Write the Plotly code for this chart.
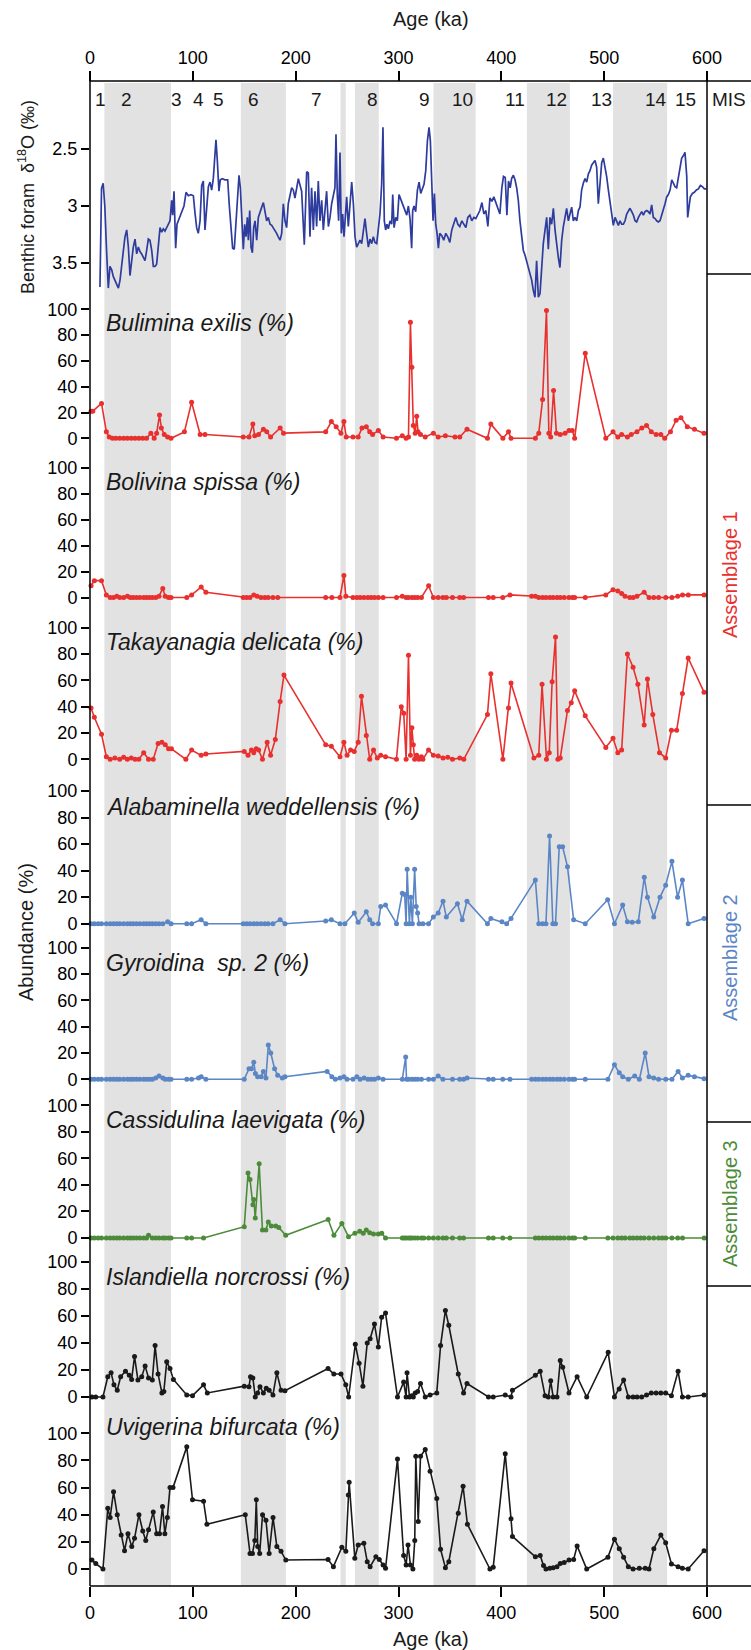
import plotly.graph_objects as go

W, H = 751, 1650
ML, MR, MT, MB = 90, 44, 81, 64
PH = H - MT - MB
PW = W - ML - MR


def fy(p):
    return (H - MB - p) / PH


def fx(p):
    return (p - ML) / PW


FONT = "Arial, Liberation Sans, sans-serif"

# ---------------- data ----------------
age_ticks = [0, 100, 200, 300, 400, 500, 600]

mis_labels = ["1", "2", "3", "4", "5", "6", "7", "8", "9", "10", "11", "12", "13", "14", "15"]
mis_ages = [10.3, 35.9, 83.8, 105.8, 124.9, 159.3, 219.9, 274.8, 325.1, 361.9, 413.2, 453.8, 497.0, 550.5, 579.4]

band_start = [14.0, 146.7, 243.6, 257.6, 334.0, 424.8, 508.6]
band_end = [78.8, 190.5, 248.7, 280.8, 375.0, 466.7, 561.2]

d18o_age = [9.7, 11.2, 12.8, 14.4, 16.2, 17.8, 19.4, 21.1, 22.7, 24.3, 26.0, 27.6, 29.2, 30.8, 32.4, 34.0, 35.7, 37.3,
            38.9, 40.5, 42.1, 43.8, 45.4, 47.0, 48.6, 50.2, 51.9, 53.5, 55.1, 56.7, 58.3, 60.0, 61.6, 63.2, 64.8, 66.4,
            68.1, 69.7, 71.3, 72.9, 74.6, 76.2, 77.8, 79.4, 80.4, 81.7, 83.3, 84.6, 86.6, 89.1, 91.4, 93.4, 95.6, 98.2,
            100.5, 102.1, 103.7, 105.3, 107.0, 108.6, 110.2, 111.8, 113.4, 115.1, 116.7, 118.3, 119.9, 121.5, 122.5,
            123.8, 125.4, 126.7, 128.7, 131.3, 133.9, 135.5, 137.1, 138.7, 140.3, 142.0, 143.6, 144.9, 146.2, 147.5,
            149.1, 150.4, 151.7, 153.0, 154.0, 155.3, 156.6, 157.9, 159.2, 160.5, 162.1, 163.7, 165.4, 167.0, 168.6,
            170.2, 171.8, 173.4, 175.1, 176.7, 178.3, 179.9, 181.5, 183.1, 184.8, 186.4, 188.0, 189.6, 191.2, 192.8,
            194.5, 196.1, 197.7,
            199.3, 202.6, 205.8, 208.4, 210.7, 212.3, 213.9, 215.5, 217.2, 218.8, 220.4, 222.0, 223.6, 225.3, 226.9,
            228.5, 230.1, 231.8, 233.4, 235.0, 236.6, 238.2, 239.2, 240.5, 241.8, 243.1, 244.4, 245.7, 247.0, 248.3,
            249.6, 251.2, 252.8, 254.5, 256.1, 257.7, 259.3, 260.9, 262.6, 264.2, 265.8, 267.4, 269.0, 270.7, 272.3,
            273.9, 275.5, 277.1, 278.8, 280.4, 282.0, 283.6, 284.9, 286.2, 287.5, 288.8, 290.1, 291.8, 293.4, 294.4,
            295.7, 297.3, 298.9, 300.5, 302.5, 304.4, 306.3, 308.0, 309.6, 311.2, 312.8, 313.8, 315.1, 316.7, 318.4,
            320.0, 321.6, 323.2, 324.8, 326.5, 328.1, 329.7, 331.0, 332.3, 333.6, 334.9, 336.2, 337.5, 338.8, 340.1,
            342.1, 344.0, 346.0, 347.9, 349.9, 351.8, 353.8, 355.7, 357.7, 359.6, 361.6, 363.5, 365.5, 367.4, 369.4,
            371.3, 373.3, 375.2, 377.2, 379.1, 381.1, 383.0, 385.0, 386.9, 388.9, 390.8, 392.7, 394.7, 396.6, 398.6,
            400.5, 402.1, 403.8, 405.4, 407.0, 408.6,
            410.0, 411.7, 413.3, 414.9, 416.5, 418.1, 419.8, 421.4, 423.0, 424.6, 426.2, 427.9, 429.5, 431.1, 432.7,
            434.3, 436.0, 437.6, 439.2, 440.8, 442.5, 444.1, 445.7, 447.3, 448.9, 450.6, 452.2, 453.8, 455.4, 457.0,
            458.7, 460.3, 461.9, 463.5, 465.2, 466.8, 468.4, 470.0, 471.6, 473.3, 474.9, 476.5, 478.1, 479.7, 481.4,
            483.0, 484.6, 486.2, 487.9, 489.5, 491.1, 492.7, 494.3, 496.0, 497.6, 499.2, 500.8, 502.4, 504.1, 505.7,
            507.3, 508.9, 510.6, 512.2, 513.8, 515.4, 517.0, 518.7, 520.3, 521.9, 523.5, 525.1, 526.8, 528.4, 530.0,
            531.6, 533.3, 534.9, 536.5, 538.1, 539.7, 541.4, 543.0, 544.6, 546.2, 547.8, 549.5, 551.1, 552.7, 554.3,
            556.0, 557.6, 559.2, 560.8, 562.4, 564.1, 565.7, 567.3, 568.9, 570.5, 572.2, 573.8, 575.4, 577.0, 578.6,
            580.3, 581.2, 582.5, 583.8, 585.8, 587.7, 589.7, 591.6, 593.6, 595.5, 597.5, 599.4]
d18o_val = [3.71, 2.845, 2.80, 3.0, 3.41, 3.72, 3.53, 3.56, 3.62, 3.65, 3.69, 3.72, 3.65, 3.53, 3.36, 3.27, 3.21, 3.36,
            3.61, 3.45, 3.36, 3.29, 3.42, 3.36, 3.40, 3.42, 3.45, 3.48, 3.39, 3.29, 3.30, 3.39, 3.53, 3.53, 3.51, 3.36,
            3.19, 3.23, 3.20, 3.22, 3.19, 3.16, 3.13, 2.95, 3.08, 2.87, 3.37, 3.16, 3.11, 3.06, 3.00, 2.88, 2.91, 2.90,
            2.91, 3.06, 3.19, 3.24, 3.13, 2.82, 2.78, 3.21, 3.00, 2.83, 2.79, 2.86, 2.76, 2.54, 2.42,
            2.60, 2.87, 2.77, 2.76, 2.77, 2.77, 3.00, 3.21, 3.37, 3.38, 3.13, 2.84, 2.73, 2.84, 3.13,
            3.38, 3.16, 3.27, 3.10, 3.30, 3.04, 3.36, 3.41, 3.19, 3.13, 3.30, 3.10, 3.04, 3.01, 2.97,
            3.07, 3.13, 3.10, 3.16, 3.17, 3.19, 3.22, 3.24, 3.27, 3.30, 3.24, 2.98, 3.13, 3.19, 2.98,
            2.89, 2.84, 2.86,
            2.93, 2.76, 2.87, 3.34, 2.70, 2.71, 3.27, 2.84, 3.21, 2.87, 3.18, 2.78, 3.13, 2.95, 3.21,
            3.04, 2.87, 3.18, 3.10, 2.98, 2.92, 2.84, 2.37, 2.90, 3.13, 2.53, 3.24, 3.07, 3.27, 3.13,
            2.92, 3.18, 2.95, 2.79, 2.98, 3.27, 3.36, 3.33, 3.30, 3.33, 3.21, 3.11, 3.24, 3.36, 3.29,
            3.33, 3.27, 3.32, 3.33, 3.21, 3.07, 2.81, 2.31, 3.13, 3.21, 3.16, 3.20, 3.13, 3.16, 2.90,
            3.19, 3.10, 3.13, 2.90, 2.95, 3.00, 3.04, 3.08, 3.00, 3.11, 3.37, 3.04, 3.00, 3.05, 2.86,
            2.79, 2.89, 2.84, 2.81, 2.69, 2.43, 2.31, 2.43, 2.78, 3.13, 2.89, 3.16, 3.24, 3.37, 3.24,
            3.26, 3.30, 3.24, 3.27, 3.32, 3.21, 3.16, 3.10, 3.16, 3.18, 3.13, 3.16, 3.19, 3.10, 3.08,
            3.13, 3.10, 3.11, 3.07, 3.04, 2.97, 3.07, 3.04, 3.18, 2.93, 2.96, 2.92, 2.98, 3.02, 3.07,
            2.84, 2.74, 2.75, 3.08, 2.78, 2.84,
            2.76, 2.73, 2.77, 2.84, 2.95, 3.13, 3.27, 3.39, 3.43, 3.48, 3.54, 3.60, 3.65, 3.74, 3.80,
            3.48, 3.80, 3.77, 3.54, 3.33, 3.21, 3.10, 3.38, 3.10, 3.16, 3.02, 3.21, 3.36, 3.45, 3.54,
            3.30, 3.18, 3.10, 3.02, 3.13, 3.07, 3.01, 3.13, 3.10, 3.13, 3.04, 3.01, 2.86, 2.80, 2.76,
            2.79, 2.72, 2.69, 2.64, 2.62, 2.60, 2.66, 2.98, 2.80, 2.62, 2.58, 2.65, 2.74, 2.86, 2.98,
            3.07, 3.17, 3.10, 3.13, 3.17, 3.13, 3.16, 3.16, 3.13, 3.07, 3.04, 3.02, 3.05, 3.08, 3.13,
            3.14, 3.10, 3.07, 3.05, 3.08, 3.05, 3.04, 3.05, 3.07, 2.99, 3.10, 3.11, 3.13, 3.14, 3.13,
            3.08, 3.04, 2.98, 2.92, 2.90, 2.86, 2.77, 2.80, 2.83, 2.84, 2.74, 2.65, 2.58, 2.56, 2.53,
            2.74, 3.10, 3.01, 2.92, 2.89, 2.88, 2.86, 2.85, 2.82, 2.83, 2.85, 2.85]
d18o_ticks = [2.5, 3, 3.5]

bul_age = [1.0, 2.7, 11.2, 15.9, 18.7, 21.9, 25.2, 28.9, 32.7, 36.3, 40.1, 43.8, 47.5, 51.3, 55.0, 59.2, 62.4, 64.8,
           67.6, 69.4, 72.2, 75.5, 78.8, 91.8, 98.8, 107.1, 111.8, 149.0, 154.6, 158.4, 160.2, 163.9, 168.6, 171.9,
           175.6, 184.9, 188.2, 229.2, 234.7, 239.4, 244.0, 246.9, 249.2, 255.7, 260.8, 264.5, 268.7, 272.0, 274.8,
           280.4, 285.0, 298.0, 303.7, 307.4, 309.7, 311.6, 313.0, 314.4, 316.2, 317.7, 319.0, 321.4, 326.0, 333.9,
           338.6, 345.6, 354.9, 359.6, 366.6, 386.5, 389.8, 401.5, 407.0, 409.4, 433.1, 436.4, 440.1, 443.9, 446.2,
           448.0, 450.8, 453.6, 457.3, 462.0, 465.8, 469.0, 471.3, 481.6, 501.6, 508.6, 513.3, 517.0, 522.6, 526.3,
           531.9, 536.6, 541.2, 545.8, 550.5, 555.1, 558.9, 564.5, 570.0, 574.7, 580.8, 587.8, 597.1]
bul_val = [21, 21, 27, 5, 1, 0, 0, 0, 0, 0, 0, 0, 0, 0, 0, 4, 0, 4,
           18, 8, 3, 1, 0, 5, 28, 3, 3, 1, 1, 11, 2, 3, 7, 5,
           1, 8, 4, 5, 13, 9, 4, 13, 1, 1, 1, 8, 9, 5, 3,
           6, 1, 0, 2, 0, 1, 90, 55, 10, 4, 17, 5, 3, 1, 4,
           1, 2, 1, 1, 7, 0, 11, 0, 5, 0, 0, 4, 30, 99, 4,
           1, 37, 4, 3, 4, 6, 6, 0, 66, 0, 5, 1, 3, 1, 3,
           5, 8, 10, 5, 3, 3, 0, 5, 14, 16, 9, 7, 4]

bol_age = [1.0, 4.2, 11.2, 15.9, 19.6, 22.9, 26.1, 28.9, 32.7, 36.4, 39.2, 42.0, 45.2, 48.5, 52.2, 55.0, 57.8, 60.6,
           63.9, 67.1, 70.8, 73.1, 76.4, 78.8, 94.1, 98.8, 108.1, 112.7, 149.0, 152.3, 155.6, 159.3, 162.5, 166.3,
           170.0, 173.3, 177.9, 182.6, 229.2, 235.2, 243.1, 246.9, 248.8, 255.7, 259.5, 262.7, 266.4, 270.2, 273.4,
           276.7, 280.4, 285.0, 298.1, 303.7, 307.4, 309.7, 313.0, 315.8, 318.6, 322.3, 329.3, 333.9, 338.6, 343.2,
           346.5, 352.5, 359.5, 363.3, 387.5, 392.1, 401.4, 408.4, 429.4, 433.1, 436.4, 440.1, 443.4, 447.1, 450.3,
           454.1, 457.3, 461.1, 465.7, 469.0, 471.3, 481.6, 501.6, 508.6, 513.3, 517.0, 520.3, 524.9, 528.2, 531.9,
           538.9, 543.6, 548.2, 552.9, 559.9, 565.9, 571.5, 576.2, 581.8, 597.2]
bol_val = [9, 13, 13, 2, 0, 0, 1, 0, 0, 1, 0, 0, 0, 0, 0, 0, 0, 0,
           0, 1, 7, 1, 0, 0, 0, 2, 8, 4, 0, 0, 0, 2, 1, 0,
           0, 0, 0, 0, 0, 0, 0, 17, 1, 0, 0, 0, 0, 0, 0,
           0, 0, 0, 0, 1, 0, 0, 0, 0, 0, 0, 9, 0, 0, 0,
           0, 0, 0, 0, 0, 0, 0, 2, 1, 1, 0, 0, 0, 0, 0,
           0, 0, 0, 0, 0, 0, 0, 2, 6, 5, 3, 1, 0, 0, 1,
           4, 0, 0, 0, 0, 0, 1, 2, 2, 2]

tak_age = [1.0, 4.2, 11.2, 15.9, 19.6, 24.2, 28.9, 32.7, 36.3, 40.1, 43.8, 47.5, 52.2, 56.9, 61.5, 66.2, 69.9, 73.2,
           76.4, 79.2, 93.2, 98.8, 108.1, 112.7, 150.0, 153.7, 157.0, 159.3, 161.6, 164.0, 167.7, 172.3, 175.6,
           180.2, 184.9, 188.6, 229.2, 234.7, 243.1, 246.9, 250.0, 253.4, 257.0, 260.8, 264.0, 268.7, 272.0, 275.7,
           279.4, 282.7, 287.4, 298.0, 302.7, 305.1, 307.4, 309.7, 311.6, 313.0, 314.4, 315.7, 317.7, 320.0, 322.3,
           323.7, 329.2, 333.9, 338.6, 343.3, 347.9, 352.5, 359.6, 363.5, 386.5, 389.8, 401.5, 407.0, 409.4, 431.7,
           436.4, 439.6, 443.9, 446.6, 449.4, 452.7, 455.0, 457.3, 464.3, 468.0, 471.3, 481.6, 501.6, 508.6, 513.3,
           517.0, 522.6, 528.1, 532.8, 538.9, 542.1, 547.3, 553.8, 559.8, 565.4, 570.5, 576.1, 581.7, 597.1]
tak_val = [39, 32, 19, 2, 0, 1, 0, 1.5, 0, 1, 0, 0, 5, 0, 0, 12, 13, 11,
           8, 8, 0, 7, 3, 4, 6, 3, 7, 5, 8, 7, 0, 13, 3,
           15, 44, 64, 11, 10, 2, 13, 3, 7, 6, 13, 48, 18, 0, 7,
           1, 3, 2, 0, 40, 35, 0, 79, 3, 24, 11, 0, 3, 0, 2,
           0, 7, 3, 2.5, 1, 1.5, 0, 1, 0, 34, 65, 0, 39, 58, 1,
           3, 57, 0, 5, 59, 93, 0, 1, 37, 43, 52, 33, 9, 16, 5,
           7, 80, 70, 57, 26, 61, 34, 5, 1, 22, 22, 50, 77, 51]

ala_age = [1.0, 4.2, 7.9, 11.2, 15.9, 19.6, 22.9, 26.1, 28.9, 32.7, 36.4, 39.2, 42.0, 45.2, 48.5, 52.2, 55.0, 57.8,
           60.6, 63.9, 67.1, 70.8, 75.5, 78.8, 94.1, 98.8, 108.1, 112.7, 149.0, 152.3, 155.6, 159.3, 162.5, 166.3,
           170.0, 173.3, 177.9, 184.9, 189.6, 229.2, 234.7, 243.1, 247.9, 257.0, 260.8, 268.7, 272.0, 274.8, 280.4,
           282.7, 287.4, 298.1, 303.7, 306.0, 307.4, 308.4, 310.6, 312.0, 313.5, 315.7, 317.2, 318.6, 320.0, 323.7,
           329.2, 333.9, 338.6, 343.3, 346.5, 357.3, 362.0, 366.6, 386.5, 389.8, 400.6, 405.2, 409.4, 433.1, 436.4,
           440.1, 443.4, 446.9, 450.1, 452.7, 456.3, 459.6, 464.3, 470.3, 481.6, 503.4, 510.0, 518.0, 522.6, 527.3,
           533.2, 539.0, 542.1, 548.2, 554.3, 559.8, 565.9, 571.4, 576.1, 581.7, 597.1]
ala_val = [0, 0, 0, 0, 0, 0, 0, 0, 0, 0, 0, 0, 0, 0, 0, 0, 0, 0,
           0, 0, 0, 0, 1.5, 0, 0, 0, 3, 0, 0, 0, 0, 0, 0, 0,
           0, 0, 0, 3, 0, 2, 3, 0, 0, 8, 1, 9, 3, 0, 0,
           13, 14, 0, 23, 22, 0, 41, 0, 20, 0, 41, 13, 8, 0, 0,
           0, 5, 8, 17, 5, 15, 3, 17, 0, 4, 1.5, 0, 4, 33, 0,
           0, 0, 66, 0, 0, 58, 58, 43, 3, 0, 18, 0, 14, 1.5, 1,
           1.5, 35, 20, 5, 20, 29, 47, 20, 33, 0, 4]

gyr_age = [1.0, 4.2, 7.9, 11.2, 15.9, 19.6, 22.9, 26.1, 28.9, 32.7, 36.4, 39.2, 42.0, 45.2, 48.5, 52.2, 55.0, 57.8,
           60.6, 63.9, 67.1, 70.8, 73.1, 76.4, 78.8, 94.1, 98.8, 105.5, 108.1, 112.7, 150.0, 154.6, 157.0, 159.3,
           160.8, 163.0, 166.5, 168.6, 171.1, 173.4, 175.8, 179.5, 182.5, 187.0, 189.6, 230.6, 235.2, 238.6, 243.1,
           246.9, 250.0, 255.7, 259.5, 262.7, 266.6, 270.2, 273.4, 276.7, 280.4, 285.0, 303.7, 307.0, 307.8, 309.7,
           313.0, 315.8, 318.6, 322.3, 329.3, 333.9, 338.6, 343.2, 352.5, 359.5, 363.3, 366.6, 387.5, 392.1, 401.4,
           408.4, 429.4, 433.1, 436.4, 440.1, 443.4, 447.1, 450.3, 454.1, 457.3, 461.1, 465.7, 469.0, 471.3, 481.6,
           503.6, 510.0, 514.7, 518.0, 523.5, 529.7, 534.2, 539.9, 543.6, 548.2, 552.9, 559.9, 565.9, 571.9, 576.1,
           581.7, 587.8, 597.1]
gyr_val = [0, 0, 0, 0, 0, 0, 0, 0, 0, 0, 0, 0, 0, 0, 0, 0, 0, 0,
           0, 1, 2.5, 1, 0, 0, 0, 0, 0, 1, 2, 0, 0, 8, 8, 13,
           4.5, 2, 2, 6, 1, 26, 20, 8, 3, 1, 2, 6, 2, 0, 1,
           2, 0, 0, 2, 0, 1, 0, 0, 0, 1, 0, 0, 17, 0, 0,
           0, 0, 0, 0, 0, 0, 2.5, 0, 0, 0, 0, 1, 0, 0, 0,
           0, 0, 0, 0, 0, 0, 0, 0, 0, 0, 0, 0, 0, 0, 0,
           0, 11, 5, 2, 0, 2.5, 0, 20, 2, 1, 0, 0, 0, 6, 1,
           3, 2, 0.5]

cas_age = [1.0, 4.2, 7.9, 11.2, 15.9, 19.6, 22.9, 26.1, 28.9, 32.7, 36.4, 39.2, 42.0, 45.2, 48.5, 52.2, 55.0, 56.9,
           60.6, 63.9, 67.1, 70.8, 73.1, 76.4, 78.8, 94.1, 98.8, 110.4, 150.0, 153.7, 155.6, 158.4, 159.3, 160.7,
           164.5, 167.7, 171.0, 173.4, 176.3, 180.6, 183.6, 190.3, 231.6, 237.2, 244.9, 251.4, 257.6, 262.3, 265.7,
           268.7, 272.0, 275.7, 280.4, 283.7, 287.4, 303.7, 305.5, 307.4, 309.7, 311.5, 313.0, 315.8, 318.6, 322.3,
           324.6, 329.3, 333.9, 338.6, 343.2, 346.5, 352.5, 359.5, 363.3, 387.5, 392.1, 401.4, 408.4, 433.1, 436.4,
           440.1, 443.4, 447.1, 450.3, 454.1, 457.3, 461.1, 465.7, 469.0, 471.3, 481.6, 503.6, 508.6, 513.3, 517.0,
           520.3, 524.9, 528.2, 531.9, 535.5, 538.9, 543.6, 548.2, 552.9, 556.5, 559.9, 565.9, 571.5, 576.2, 597.2]
cas_val = [0, 0, 0, 0, 0, 0, 0, 0, 0, 0, 0, 0, 0, 0, 0, 0, 0, 2,
           0, 0, 0, 0, 0, 0, 0, 0, 0, 0, 8.5, 49, 44, 25, 29, 15,
           56, 6, 6, 12, 9, 9, 8, 2, 14, 2, 11, 1, 3.5, 5, 3.5,
           6, 4, 3, 3, 3.5, 0, 0, 0, 0, 0, 0, 0, 0, 0, 0,
           0, 0, 0, 0, 0, 0, 0, 0, 0, 0, 0, 0, 0, 0, 0,
           0, 0, 0, 0, 0, 0, 0, 0, 0, 0, 0, 0, 0, 0, 0,
           0, 0, 0, 0, 0, 0, 0, 0, 0, 0, 0, 0, 0, 0, 0]

isl_age = [1.9, 5.6, 12.6, 17.3, 20.5, 23.3, 26.5, 29.8, 34.5, 38.2, 40.5, 43.3, 46.6, 50.3, 53.6, 56.9, 60.6, 63.3,
           66.2, 69.9, 71.8, 74.6, 77.8, 81.1, 94.1, 99.7, 110.4, 114.1, 150.0, 154.6, 156.1, 158.4, 160.7, 163.0,
           165.3, 168.6, 171.4, 174.2, 177.9, 181.7, 185.8, 189.6, 231.5, 237.1, 244.1, 248.7, 251.5, 258.0, 261.7,
           265.4, 269.6, 272.4, 276.6, 280.4, 283.6, 287.4, 299.0, 305.0, 307.4, 308.3, 310.7, 313.0, 314.4, 316.2,
           318.6, 321.4, 326.0, 330.7, 337.2, 340.9, 345.6, 348.9, 358.1, 363.3, 366.6, 387.5, 392.1, 403.8, 409.4,
           410.8, 433.1, 437.8, 442.5, 445.7, 448.0, 450.4, 454.1, 457.3, 459.7, 465.8, 473.7, 483.0, 503.9, 510.0,
           514.6, 518.9, 523.5, 528.1, 532.0, 536.5, 541.2, 545.8, 550.5, 555.1, 559.8, 565.4, 571.9, 576.1, 581.7,
           597.1]
isl_val = [0, 0, 0, 15, 18, 9, 5, 15, 19, 16, 13, 30, 12.5, 15, 23, 14, 12.5, 38,
           17, 3, 4, 26, 21, 13, 1.5, 1, 9, 3, 8, 7.6, 15, 14, 0, 3,
           7.6, 3, 6.4, 5, 1.5, 18, 5, 4.7, 21, 17, 17, 9, 0, 39, 25,
           8, 40, 43, 54, 37, 59, 62, 0, 11, 0, 18, 0, 1, 0, 3,
           4, 10, 0, 1.5, 3, 38, 64, 53, 17, 3, 10, 0, 0, 1.5, 0,
           5, 16, 19, 1, 0, 12, 0, 0, 27, 22, 3, 15, 0, 33, 0,
           6, 12.6, 0, 0, 0, 0, 1.5, 3, 3, 3, 3, 1, 19, 0, 0,
           1.5]

uvi_age = [1.9, 5.6, 12.6, 17.3, 19.6, 22.9, 26.5, 30.3, 33.6, 36.9, 40.6, 43.3, 47.6, 51.3, 54.2, 56.9, 61.5, 64.8,
           67.6, 70.5, 72.8, 75.2, 77.8, 80.7, 94.1, 99.7, 110.4, 113.7, 151.0, 155.6, 158.0, 160.3, 161.7, 163.1,
           165.0, 167.8, 171.1, 174.2, 178.0, 181.7, 185.8, 190.4, 231.5, 236.7, 244.9, 248.8, 251.2, 252.0, 257.5,
           260.8, 266.3, 269.6, 272.4, 278.0, 281.3, 285.0, 287.4, 299.0, 305.0, 307.4, 309.3, 311.6, 314.0, 315.8,
           316.8, 319.2, 321.4, 326.0, 330.7, 337.2, 340.9, 345.6, 348.9, 358.1, 362.8, 367.0, 388.9, 392.1, 403.8,
           409.4, 410.8, 433.1, 437.8, 441.0, 443.4, 447.1, 450.4, 454.1, 457.3, 461.1, 465.8, 470.3, 473.7, 483.0,
           503.6, 510.0, 514.7, 518.9, 523.5, 528.1, 534.2, 539.9, 543.6, 548.3, 555.1, 559.8, 565.4, 571.9, 576.1,
           581.7, 597.1]
uvi_val = [6.6, 4, 0, 44.7, 38, 57, 40, 25, 13.5, 26, 16.5, 22.6, 40, 28, 21, 29, 42, 26,
           26, 46, 26, 38, 60, 60, 90, 51, 50, 33, 40, 11.5, 11.5, 21, 51, 16.5,
           11.5, 40, 36, 11.5, 38, 16.5, 13, 6.6, 7, 1.7, 16, 13, 54.5, 64, 8,
           17.7, 19, 5.4, 1.7, 9, 7, 3, 0.5, 81, 10, 3, 17.7, 3, 0, 21,
           83, 35, 83, 88, 72, 52, 14.5, 1, 5.4, 41, 61, 33, 0, 1.2, 85,
           37, 24, 9, 10, 2.5, 0, 0.5, 1, 1.7, 4, 4.7, 6.6, 7, 17, 0,
           8.6, 22, 15, 8.6, 1.7, 0, 0.5, 0.5, 0, 15, 25, 19.4, 3.7, 1.7, 0.5,
           0, 13.5]

pct_ticks = [0, 20, 40, 60, 80, 100]

RED = "#E8302E"
BLUE2 = "#5B86C6"
GREEN = "#4C8B3A"
BLACK = "#1A1A1A"
DBLUE = "#2E3C9E"

# name, ages, vals, color, pixel y of 100, pixel y of 0, label pixel y
panels = [
    ("<i>Bulimina exilis (%)</i>", bul_age, bul_val, RED, 309.3, 438.3, 323),
    ("<i>Bolivina spissa (%)</i>", bol_age, bol_val, RED, 467.7, 597.5, 482),
    ("<i>Takayanagia delicata (%)</i>", tak_age, tak_val, RED, 627.7, 759.3, 642),
    ("<i>Alabaminella weddellensis (%)</i>", ala_age, ala_val, BLUE2, 791.0, 923.7, 807),
    ("<i>Gyroidina  sp. 2 (%)</i>", gyr_age, gyr_val, BLUE2, 947.7, 1079.3, 963),
    ("<i>Cassidulina laevigata (%)</i>", cas_age, cas_val, GREEN, 1105.3, 1238.0, 1120),
    ("<i>Islandiella norcrossi (%)</i>", isl_age, isl_val, BLACK, 1261.7, 1397.0, 1277),
    ("<i>Uvigerina bifurcata (%)</i>", uvi_age, uvi_val, BLACK, 1433.3, 1569.0, 1427),
]

fig = go.Figure()

# delta 18O
fig.add_trace(go.Scatter(x=d18o_age, y=d18o_val, mode="lines", line=dict(color=DBLUE, width=1.7),
                         xaxis="x", yaxis="y", showlegend=False, hoverinfo="skip"))
# helper trace for top axis
fig.add_trace(go.Scatter(x=[0, 600], y=[3, 3], mode="markers", marker=dict(opacity=0),
                         xaxis="x2", yaxis="y", showlegend=False, hoverinfo="skip"))

tickfont = dict(family=FONT, size=18, color="black")
layout = dict(
    width=W, height=H,
    margin=dict(l=ML, r=MR, t=MT, b=MB),
    paper_bgcolor="white", plot_bgcolor="rgba(0,0,0,0)",
    showlegend=False,
    xaxis=dict(domain=[0, 1], range=[0, 600], anchor="free", position=0, tickvals=age_ticks,
               ticks="outside", ticklen=10, tickwidth=1.5, tickcolor="black", tickfont=tickfont,
               showline=False, showgrid=False, zeroline=False),
    xaxis2=dict(overlaying="x", side="top", range=[0, 600], anchor="free", position=1, tickvals=age_ticks,
                ticks="outside", ticklen=10, tickwidth=1.5, tickcolor="black", tickfont=tickfont,
                showline=False, showgrid=False, zeroline=False),
)

v_bot = 2.5 + (304 - 149) / 114
v_top = 2.5 + (118 - 149) / 114
layout["yaxis"] = dict(domain=[fy(304), fy(118)], range=[v_bot, v_top], anchor="x",
                       tickvals=d18o_ticks, ticktext=["2.5", "3", "3.5"],
                       ticks="outside", ticklen=8, tickwidth=1.5, tickcolor="black", tickfont=tickfont,
                       showline=False, showgrid=False, zeroline=False)

annotations = []
for i, (label, ages, vals, color, y100, y0, ly) in enumerate(panels):
    n = i + 2
    span = y0 - y100
    top_p = y100 - 14
    bot_p = y0 + 12
    layout[f"yaxis{n}"] = dict(domain=[fy(bot_p), fy(top_p)],
                               range=[-(bot_p - y0) / span * 100, (y0 - top_p) / span * 100],
                               anchor="x", tickvals=pct_ticks, ticks="outside", ticklen=8, tickwidth=1.5,
                               tickcolor="black", tickfont=tickfont,
                               showline=False, showgrid=False, zeroline=False)
    fig.add_trace(go.Scatter(x=ages, y=vals, mode="lines+markers",
                             line=dict(color=color, width=1.6),
                             marker=dict(color=color, size=5),
                             xaxis="x", yaxis=f"y{n}", showlegend=False, hoverinfo="skip",
                             cliponaxis=False))
    annotations.append(dict(text=label, x=fx(104), y=fy(ly), xref="paper", yref="paper",
                            xanchor="left", yanchor="middle", showarrow=False,
                            font=dict(family=FONT, size=23, color="#1a1a1a")))

shapes = []
for a, b in zip(band_start, band_end):
    shapes.append(dict(type="rect", xref="x", yref="paper", x0=a, x1=b, y0=0, y1=fy(83),
                       fillcolor="#E3E2E2", line=dict(width=0), layer="below"))

line_style = dict(color="black", width=1.5)
xr = fx(751)
shapes += [
    dict(type="line", xref="paper", yref="paper", x0=0, x1=0, y0=0, y1=1, line=line_style),
    dict(type="line", xref="paper", yref="paper", x0=1, x1=1, y0=0, y1=1, line=line_style),
    dict(type="line", xref="paper", yref="paper", x0=0, x1=xr, y0=1, y1=1, line=line_style),
    dict(type="line", xref="paper", yref="paper", x0=0, x1=xr, y0=0, y1=0, line=line_style),
]
for yp in [274, 805, 1122, 1286]:
    shapes.append(dict(type="line", xref="paper", yref="paper", x0=1, x1=xr, y0=fy(yp), y1=fy(yp),
                       line=line_style))

# MIS labels
for lab, a in zip(mis_labels, mis_ages):
    annotations.append(dict(text=lab, x=a, y=fy(100), xref="x", yref="paper", showarrow=False,
                            xanchor="center", yanchor="middle",
                            font=dict(family=FONT, size=19, color="#1a1a1a")))
annotations.append(dict(text="MIS", x=fx(729), y=fy(100), xref="paper", yref="paper", showarrow=False,
                        xanchor="center", yanchor="middle", font=dict(family=FONT, size=19, color="#1a1a1a")))

# assemblage labels
for txt, col, yc in [("Assemblage 1", RED, 575), ("Assemblage 2", BLUE2, 958), ("Assemblage 3", GREEN, 1204)]:
    annotations.append(dict(text=txt, x=fx(730), y=fy(yc), xref="paper", yref="paper", showarrow=False,
                            textangle=-90, xanchor="center", yanchor="middle",
                            font=dict(family=FONT, size=20, color=col)))

# axis titles
for yc in [19, 1639]:
    annotations.append(dict(text="Age (ka)", x=fx(431), y=fy(yc), xref="paper", yref="paper", showarrow=False,
                            xanchor="center", yanchor="middle", font=dict(family=FONT, size=20, color="#1a1a1a")))
annotations.append(dict(text="Benthic foram  δ<sup>18</sup>O (‰)", x=fx(26), y=fy(197), xref="paper", yref="paper",
                        showarrow=False, textangle=-90, xanchor="center", yanchor="middle",
                        font=dict(family=FONT, size=18, color="#1a1a1a")))
annotations.append(dict(text="Abundance (%)", x=fx(26), y=fy(932), xref="paper", yref="paper",
                        showarrow=False, textangle=-90, xanchor="center", yanchor="middle",
                        font=dict(family=FONT, size=20, color="#1a1a1a")))

layout["shapes"] = shapes
layout["annotations"] = annotations
fig.update_layout(**layout)

fig.write_html("out.html", config={"displayModeBar": False},
               post_script="document.body.style.margin='0px';document.body.style.padding='0px';"
                           "document.body.style.overflow='hidden';")
